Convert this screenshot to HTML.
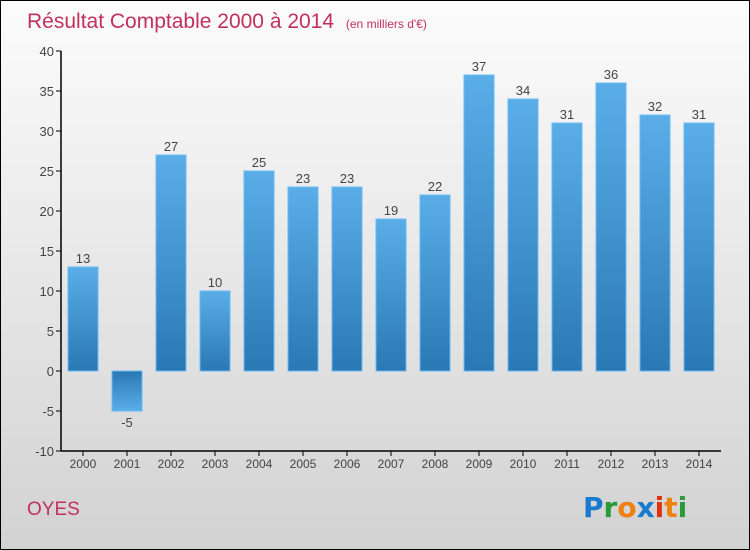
<!DOCTYPE html>
<html><head><meta charset="utf-8"><style>
body{margin:0;}
#wrap{width:750px;height:550px;position:relative;box-sizing:border-box;border:1px solid #000;background:linear-gradient(#fcfcfc,#d2d2d2);font-family:"Liberation Sans",sans-serif;overflow:hidden}
</style></head><body>
<div id="wrap">
<svg id="svg" width="748" height="548" style="position:absolute;left:0;top:0">
<defs>
<linearGradient id="gp" x1="0" y1="0" x2="0" y2="1"><stop offset="0" stop-color="#5aaee8"/><stop offset="1" stop-color="#2a78b4"/></linearGradient>
<linearGradient id="gn" x1="0" y1="0" x2="0" y2="1"><stop offset="0" stop-color="#2a78b4"/><stop offset="1" stop-color="#5aaee8"/></linearGradient>
</defs>
<text x="26" y="27" font-size="21" fill="#c2305e">Résultat Comptable 2000 à 2014 <tspan font-size="12" dx="6">(en milliers d'€)</tspan></text>
<text x="26" y="514" font-size="19" fill="#c2305e">OYES</text>
<g font-size="28" font-weight="bold" font-family="'DejaVu Sans',sans-serif">
<text x="582" y="516"><tspan fill="#1a7ad0">P</tspan><tspan fill="#2a9a3a">r</tspan><tspan fill="#f08010">o</tspan><tspan fill="#1a7ad0">x</tspan><tspan fill="#e03010">i</tspan><tspan fill="#f08010">t</tspan><tspan fill="#2a9a3a">i</tspan></text>
</g>
<g id="plot"></g>
</svg>
</div>
<script>
const years=["2000","2001","2002","2003","2004","2005","2006","2007","2008","2009","2010","2011","2012","2013","2014"];
const values=[13,-5,27,10,25,23,23,19,22,37,34,31,36,32,31];
const yTicks=[-10,-5,0,5,10,15,20,25,30,35,40];
const NS="http://www.w3.org/2000/svg";
const g=document.getElementById('plot');
const y=v=>370-v*8;
const x=i=>82+i*44;
function el(t,a){const e=document.createElementNS(NS,t);for(const k in a)e.setAttribute(k,a[k]);g.appendChild(e);return e;}
yTicks.forEach(t=>{
 const l=el('line',{x1:55,x2:60,y1:y(t),y2:y(t),stroke:'#000'});
 
 
 const tx=el('text',{x:53,y:y(t)+5,'text-anchor':'end','font-size':13,fill:'#444'});
 tx.textContent=t;
 
 
});
values.forEach((v,i)=>{
 const top=v>=0?y(v):y(0);
 const r=el('rect',{x:x(i)-15,y:top,width:30,height:Math.abs(v)*8,fill:v>=0?'url(#gp)':'url(#gn)',stroke:'#6cbaf0','stroke-width':1});
 
 
 const lb=el('text',{x:x(i),y:v>=0?y(v)-4:y(v)+16,'text-anchor':'middle','font-size':13,fill:'#444'});
 lb.textContent=v;
 
 
 const tk=el('line',{x1:x(i),x2:x(i),y1:450,y2:455,stroke:'#000'});
 
 
 const xl=el('text',{x:x(i),y:467,'text-anchor':'middle','font-size':12,fill:'#444'});
 xl.textContent=years[i];
 
 
});
const ya=el('line',{x1:60,x2:60,y1:50,y2:450,stroke:'#000','stroke-width':1.5});


const xa=el('line',{x1:60,x2:720,y1:450,y2:450,stroke:'#000','stroke-width':1.5});


</script>
</body></html>
